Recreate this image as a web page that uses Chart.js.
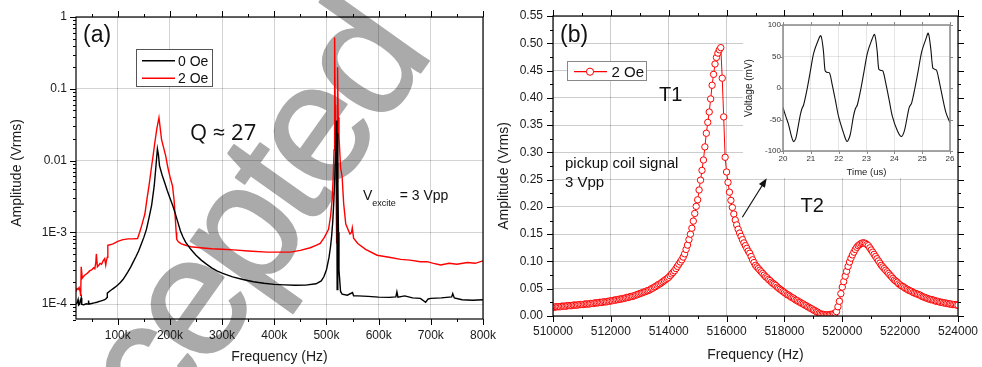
<!DOCTYPE html>
<html>
<head>
<meta charset="utf-8">
<script src="https://cdn.jsdelivr.net/npm/chart.js@4.4.1/dist/chart.umd.min.js"></script>
<style>
  body { margin: 0; background: #fff; width: 982px; height: 367px; overflow: hidden; position: relative; }
  canvas, svg { position: absolute; }
  #ca { left: 0; top: 0; }
  #cb { left: 490px; top: 0; }
  #ci { left: 743px; top: 17px; background: #fff; }
  #notes { left: 0; top: 0; pointer-events: none; font-family: "Liberation Sans", Arial, sans-serif; }
</style>
</head>
<body>
<canvas id="ca" width="500" height="367"></canvas>
<canvas id="cb" width="492" height="367"></canvas>
<canvas id="ci" width="214" height="161"></canvas>
<svg id="notes" width="982" height="367">
  <!-- panel (a) -->
  <text x="16" y="173" transform="rotate(-90 16 173)" text-anchor="middle" dominant-baseline="central" font-size="14" fill="#1a1a1a">Amplitude (Vrms)</text>
  <text x="83" y="42" font-size="23" fill="#111">(a)</text>
  <rect x="136.5" y="49.5" width="76" height="37" fill="#fff" stroke="#555" stroke-width="1"/>
  <line x1="142" y1="60.7" x2="175" y2="60.7" stroke="#000" stroke-width="1.5"/>
  <line x1="142" y1="78.3" x2="175" y2="78.3" stroke="#ff0000" stroke-width="1.5"/>
  <text x="178" y="66" font-size="14" fill="#111">0 Oe</text>
  <text x="178" y="83.3" font-size="14" fill="#111">2 Oe</text>
  <text x="190" y="140" font-size="22" font-family="Open Sans" fill="#111">Q ≈ 27</text>
  <text x="363" y="200" font-size="14" fill="#111">V<tspan font-size="9" dy="5.5">excite</tspan><tspan dy="-5.5"> = 3 Vpp</tspan></text>
  <!-- panel (b) -->
  <text x="503" y="176" transform="rotate(-90 503 176)" text-anchor="middle" dominant-baseline="central" font-size="14" fill="#1a1a1a">Amplitude (Vrms)</text>
  <text x="560" y="42" font-size="23" fill="#111">(b)</text>
  <rect x="567.5" y="61.5" width="79" height="19" fill="#fff" stroke="#888" stroke-width="1"/>
  <line x1="574" y1="71.7" x2="607" y2="71.7" stroke="#ff0000" stroke-width="1.2"/>
  <circle cx="590" cy="71.7" r="3.6" fill="#fff" stroke="#ff0000" stroke-width="1"/>
  <text x="611.5" y="77.3" font-size="15" fill="#111">2 Oe</text>
  <text x="659" y="100.7" font-size="20" fill="#111">T1</text>
  <text x="800.5" y="212.3" font-size="20" fill="#111">T2</text>
  <text x="565" y="167.7" font-size="15" fill="#111">pickup coil signal</text>
  <text x="565" y="186.5" font-size="15" fill="#111">3 Vpp</text>
  <line x1="742.3" y1="217.3" x2="762.5" y2="185" stroke="#111" stroke-width="1.2"/>
  <polygon points="766.7,178.3 764.9,187.8 758.9,184.0" fill="#111"/>
</svg>
<script>
Chart.defaults.font.family = '"Liberation Sans", Arial, sans-serif';
Chart.defaults.color = '#1a1a1a';

// ---- panel (a): spectrum, log amplitude, frequency in kHz ----
const freq0 = [
  20, 22, 24, 25, 27, 30, 31, 35, 40, 43,
  44, 45, 50, 55, 60, 65, 70, 75, 78, 79.5,
  80, 85, 90, 95, 100, 105, 110, 115, 120, 125,
  130, 135, 140, 145, 150, 155, 160, 165, 170, 173,
  176, 178, 180, 185, 190, 195, 200, 205, 210, 215,
  220, 225, 230, 240, 250, 260, 270, 280, 290, 300,
  320, 340, 360, 380, 400, 420, 440, 460, 480, 490,
  495, 500, 505, 508, 510, 512, 514, 516, 517.5, 519,
  520, 520.5, 521.5, 522, 523, 524, 527, 530, 540, 550,
  552, 560, 580, 600, 620, 633, 635, 637, 650, 665,
  680, 690, 695, 700, 720, 740, 742, 745, 760, 780,
  800
];
const amp0 = [
  1.0e-4, 1.04e-4, 1.16e-4, 0.97e-4, 1.0e-4, 1.22e-4, 0.99e-4, 0.98e-4, 1.01e-4, 1.0e-4,
  1.12e-4, 1.0e-4, 1.02e-4, 1.04e-4, 1.06e-4, 1.09e-4, 1.12e-4, 1.15e-4, 1.2e-4, 1.24e-4,
  1.42e-4, 1.52e-4, 1.62e-4, 1.72e-4, 1.85e-4, 2.0e-4, 2.2e-4, 2.5e-4, 2.85e-4, 3.3e-4,
  3.9e-4, 4.6e-4, 5.5e-4, 6.8e-4, 8.5e-4, 1.1e-3, 1.6e-3, 2.4e-3, 4.5e-3, 8e-3,
  1.45e-2, 1.2e-2, 8.5e-3, 6.3e-3, 4.9e-3, 3.8e-3, 3.0e-3, 2.4e-3, 1.85e-3, 1.4e-3,
  1.05e-3, 8.6e-4, 7.3e-4, 5.8e-4, 4.8e-4, 4.1e-4, 3.6e-4, 3.2e-4, 2.9e-4, 2.7e-4,
  2.4e-4, 2.2e-4, 2.05e-4, 1.95e-4, 1.88e-4, 1.85e-4, 1.83e-4, 1.84e-4, 1.92e-4, 2.1e-4,
  2.4e-4, 3.0e-4, 4.5e-4, 6.5e-4, 9e-4, 1.4e-3, 2.6e-3, 6e-3, 1.4e-2, 3.6e-2,
  2.5e-3, 1.6e-4, 2.4e-2, 6e-3, 1e-3, 3e-4, 1.5e-4, 1.38e-4, 1.33e-4, 1.45e-4,
  1.3e-4, 1.3e-4, 1.28e-4, 1.25e-4, 1.24e-4, 1.26e-4, 1.48e-4, 1.25e-4, 1.3e-4, 1.22e-4,
  1.2e-4, 1.06e-4, 1.18e-4, 1.2e-4, 1.22e-4, 1.26e-4, 1.4e-4, 1.22e-4, 1.15e-4, 1.13e-4,
  1.15e-4
];
const freq2 = [
  20, 22, 24, 26, 28, 29, 30, 32, 36, 39,
  42, 46, 50, 54, 56, 58, 59, 61, 64, 66,
  69, 72, 75, 77, 78, 80, 81, 85, 91, 100,
  110, 120, 129, 138, 142, 146, 149, 152, 156, 160,
  165, 168, 171, 175, 179, 181, 184, 188, 192, 196,
  200, 205, 208, 210, 212, 213, 216, 222, 230, 240,
  258, 280, 300, 322, 350, 386, 410, 431, 450, 469,
  480, 488, 496, 504, 508, 511, 513, 514.5, 515.3, 516,
  516.7, 517.5, 518.5, 519.5, 520.5, 521.3, 522.5, 524, 527, 530,
  533, 537, 545, 548, 549.5, 552, 560, 575, 597, 620,
  642, 660, 680, 693, 705, 719, 735, 750, 770, 785,
  800
];
const amp2 = [
  1.5e-4, 1.65e-4, 1.6e-4, 1.7e-4, 1.5e-4, 1.3e-4, 3.3e-4, 2.3e-4, 2.5e-4, 2.6e-4,
  2.7e-4, 2.9e-4, 3.0e-4, 3.2e-4, 3.1e-4, 3.8e-4, 5.0e-4, 3.3e-4, 3.5e-4, 3.7e-4,
  3.6e-4, 4.0e-4, 4.3e-4, 3.5e-4, 3.9e-4, 4.5e-4, 6.6e-4, 6.7e-4, 6.9e-4, 7.5e-4,
  7.9e-4, 8.1e-4, 8.1e-4, 8.2e-4, 1.0e-3, 1.25e-3, 1.5e-3, 1.8e-3, 2.9e-3, 4.5e-3,
  8.4e-3, 1.2e-2, 1.77e-2, 2.8e-2, 3.95e-2, 3.0e-2, 1.95e-2, 1.5e-2, 1.15e-2, 8e-3,
  6e-3, 4.4e-3, 2.8e-3, 1.7e-3, 1.0e-3, 8.0e-4, 7.4e-4, 6.9e-4, 6.6e-4, 6.3e-4,
  6.1e-4, 5.9e-4, 5.8e-4, 5.7e-4, 5.5e-4, 5.3e-4, 5.3e-4, 5.3e-4, 5.6e-4, 6.1e-4,
  6.6e-4, 7.0e-4, 8.5e-4, 1.1e-3, 1.7e-3, 2.9e-3, 6e-3, 1.4e-2, 1.2e-1, 5.2e-1,
  6e-2, 1.5e-2, 4e-3, 7e-4, 5e-3, 2.0e-1, 4e-2, 2.2e-2, 8e-3, 6e-3,
  2.5e-3, 1.3e-3, 9.5e-4, 1.0e-3, 1.15e-3, 8.3e-4, 7.0e-4, 5.8e-4, 4.8e-4, 4.5e-4,
  4.2e-4, 4.1e-4, 3.9e-4, 3.9e-4, 3.7e-4, 3.5e-4, 3.7e-4, 3.6e-4, 3.8e-4, 3.7e-4,
  4.0e-4
];
const ticksA = [100, 200, 300, 400, 500, 600, 700, 800];
const minorA = [50, 150, 250, 350, 450, 550, 650, 750];
const decadesA = [1e-4, 1e-3, 1e-2, 1e-1, 1];
const decadeLabels = ['1E-4', '1E-3', '0.01', '0.1', '1'];
const minorLogA = [6e-5, 7e-5, 8e-5, 9e-5,
  2e-4, 3e-4, 4e-4, 5e-4, 6e-4, 7e-4, 8e-4, 9e-4,
  2e-3, 3e-3, 4e-3, 5e-3, 6e-3, 7e-3, 8e-3, 9e-3,
  0.02, 0.03, 0.04, 0.05, 0.06, 0.07, 0.08, 0.09,
  0.2, 0.3, 0.4, 0.5, 0.6, 0.7, 0.8, 0.9];

// ---- panel (b): resonance sweep, 50 Hz steps from 510000 Hz ----
const startB = 510000, stepB = 50;
const ampB = [
  0.016, 0.016, 0.017, 0.017, 0.017, 0.017, 0.018, 0.018, 0.018, 0.018,
  0.019, 0.019, 0.019, 0.019, 0.020, 0.020, 0.020, 0.020, 0.021, 0.021,
  0.021, 0.021, 0.022, 0.022, 0.022, 0.022, 0.023, 0.023, 0.023, 0.024,
  0.024, 0.024, 0.025, 0.025, 0.025, 0.026, 0.026, 0.026, 0.027, 0.027,
  0.028, 0.028, 0.029, 0.029, 0.030, 0.030, 0.031, 0.031, 0.032, 0.032,
  0.033, 0.034, 0.034, 0.035, 0.036, 0.036, 0.037, 0.038, 0.039, 0.040,
  0.041, 0.042, 0.043, 0.044, 0.045, 0.046, 0.047, 0.048, 0.050, 0.051,
  0.053, 0.054, 0.056, 0.058, 0.059, 0.061, 0.063, 0.065, 0.067, 0.069,
  0.071, 0.074, 0.077, 0.080, 0.083, 0.087, 0.091, 0.095, 0.099, 0.103,
  0.108, 0.114, 0.122, 0.130, 0.140, 0.150, 0.161, 0.174, 0.188, 0.201,
  0.213, 0.231, 0.249, 0.267, 0.286, 0.310, 0.335, 0.355, 0.374, 0.398,
  0.423, 0.443, 0.462, 0.474, 0.482, 0.488, 0.492, 0.436, 0.365, 0.291,
  0.264, 0.245, 0.227, 0.212, 0.199, 0.187, 0.176, 0.167, 0.159, 0.152,
  0.146, 0.140, 0.134, 0.129, 0.124, 0.119, 0.115, 0.109, 0.103, 0.098,
  0.093, 0.090, 0.087, 0.084, 0.081, 0.078, 0.075, 0.072, 0.070, 0.067,
  0.065, 0.062, 0.060, 0.058, 0.056, 0.053, 0.051, 0.049, 0.047, 0.045,
  0.043, 0.041, 0.039, 0.038, 0.036, 0.034, 0.033, 0.031, 0.029, 0.028,
  0.026, 0.025, 0.023, 0.022, 0.020, 0.019, 0.017, 0.016, 0.014, 0.013,
  0.011, 0.010, 0.008, 0.007, 0.005, 0.004, 0.003, 0.003, 0.002, 0.002,
  0.002, 0.002, 0.003, 0.003, 0.004, 0.005, 0.008, 0.017, 0.027, 0.041,
  0.053, 0.063, 0.073, 0.082, 0.091, 0.099, 0.106, 0.112, 0.117, 0.122,
  0.126, 0.129, 0.131, 0.133, 0.134, 0.134, 0.133, 0.131, 0.129, 0.125,
  0.121, 0.117, 0.113, 0.109, 0.105, 0.101, 0.097, 0.093, 0.090, 0.087,
  0.084, 0.081, 0.078, 0.075, 0.072, 0.069, 0.066, 0.064, 0.062, 0.059,
  0.057, 0.055, 0.054, 0.052, 0.050, 0.049, 0.047, 0.046, 0.045, 0.043,
  0.042, 0.041, 0.040, 0.039, 0.038, 0.036, 0.035, 0.034, 0.033, 0.032,
  0.031, 0.030, 0.030, 0.029, 0.028, 0.027, 0.027, 0.026, 0.025, 0.025,
  0.024, 0.024, 0.023, 0.023, 0.022, 0.022, 0.021, 0.021, 0.021, 0.020,
  0.020
];
const ticksBx = [510000, 512000, 514000, 516000, 518000, 520000, 522000, 524000];
const minorBx = [511000, 513000, 515000, 517000, 519000, 521000, 523000];
const ticksBy = [0, 0.05, 0.10, 0.15, 0.20, 0.25, 0.30, 0.35, 0.40, 0.45, 0.50, 0.55];
const minorBy = [0.025, 0.075, 0.125, 0.175, 0.225, 0.275, 0.325, 0.375, 0.425, 0.475, 0.525];

// ---- inset: pickup coil waveform ----
const timeI = [
  20.00, 20.10, 20.20, 20.30, 20.38, 20.46, 20.54, 20.62, 20.68, 20.74,
  20.86, 20.98, 21.10, 21.24, 21.36, 21.45, 21.51, 21.57, 21.67, 21.76,
  21.88, 22.00, 22.18, 22.30, 22.41, 22.53, 22.60, 22.67, 22.79, 22.91,
  23.03, 23.17, 23.29, 23.38, 23.44, 23.50, 23.59, 23.69, 23.81, 23.93,
  24.11, 24.25, 24.36, 24.48, 24.54, 24.62, 24.74, 24.86, 24.98, 25.12,
  25.22, 25.31, 25.38, 25.44, 25.52, 25.62, 25.74, 25.86, 26.00
];
const voltI = [
  -31, -45, -58, -76, -85, -80, -62, -43, -33, -27,
  -3, 26, 55, 73, 83, 60, 28, 25, 24, 7,
  -19, -46, -72, -85, -75, -45, -33, -27, -3, 26,
  55, 74, 85, 60, 30, 28, 27, 8, -18, -45,
  -68, -77, -68, -42, -30, -24, 0, 28, 57, 76,
  87, 62, 32, 30, 28, 9, -17, -40, -55
];
const ticksIx = [20, 21, 22, 23, 24, 25, 26];
const ticksIy = [-100, -50, 0, 50, 100];

const pairs = (xs, ys) => xs.map((x, i) => ({ x: x, y: ys[i] }));

// box round the plot area plus tick marks on chosen sides
const axisFrame = {
  id: 'axisFrame',
  afterDatasetsDraw(chart, args, o) {
    const { ctx, chartArea: a } = chart;
    const sx = chart.scales.x, sy = chart.scales.y;
    ctx.save();
    ctx.strokeStyle = o.color;
    ctx.lineWidth = o.width;
    ctx.strokeRect(a.left, a.top, a.right - a.left, a.bottom - a.top);
    ctx.lineWidth = 1;
    const mark = (side, vals, len) => {
      vals.forEach(v => {
        ctx.beginPath();
        if (side === 'bottom' || side === 'top') {
          const p = Math.round(sx.getPixelForValue(v)) + 0.5;
          const y0 = side === 'bottom' ? a.bottom : a.top;
          ctx.moveTo(p, y0);
          ctx.lineTo(p, side === 'bottom' ? y0 + len : y0 - len);
        } else {
          const p = Math.round(sy.getPixelForValue(v)) + 0.5;
          const x0 = side === 'left' ? a.left : a.right;
          ctx.moveTo(x0, p);
          ctx.lineTo(side === 'left' ? x0 - len : x0 + len, p);
        }
        ctx.stroke();
      });
    };
    o.sides.forEach(s => {
      const horiz = s === 'bottom' || s === 'top';
      mark(s, horiz ? o.xMajor : o.yMajor, o.major);
      mark(s, horiz ? o.xMinor : o.yMinor, o.minor);
    });
    ctx.restore();
  }
};

// grey "Accepted" stamp behind the spectrum
const stamp = {
  id: 'stamp',
  beforeDraw(chart, args, o) {
    const ctx = chart.ctx;
    ctx.save();
    ctx.translate(o.x, o.y);
    ctx.rotate(o.angle * Math.PI / 180);
    ctx.font = o.font;
    ctx.letterSpacing = o.spacing;
    ctx.fillStyle = o.color;
    ctx.strokeStyle = o.color;
    ctx.lineWidth = o.thicken;
    ctx.lineJoin = 'round';
    ctx.fillText(o.text, 0, 0);
    ctx.strokeText(o.text, 0, 0);
    ctx.restore();
  }
};

// let edge tick labels hang past the plot box instead of shrinking it
const noEdgePad = s => { s.paddingLeft = 0; s.paddingRight = 0; };

new Chart(document.getElementById('ca'), {
  type: 'line',
  data: {
    datasets: [
      { label: '0 Oe', data: pairs(freq0, amp0), borderColor: '#000000', borderWidth: 1.4 },
      { label: '2 Oe', data: pairs(freq2, amp2), borderColor: '#ff0000', borderWidth: 1.4 }
    ]
  },
  options: {
    responsive: false,
    animation: false,
    layout: { padding: { top: 17, right: 17, left: 0, bottom: 0 } },
    elements: { point: { radius: 0 }, line: { tension: 0 } },
    plugins: {
      legend: { display: false },
      tooltip: { enabled: false },
      stamp: {
        text: 'Accepted', x: 57, y: 584, angle: -54.6,
        font: '170px "Liberation Sans"', spacing: '-8px', thicken: 2, color: '#aaaaaa'
      },
      axisFrame: {
        color: '#000', width: 1.2, major: 6, minor: 3, sides: ['bottom', 'top', 'left'],
        xMajor: ticksA, xMinor: minorA, yMajor: decadesA, yMinor: minorLogA
      }
    },
    scales: {
      x: {
        type: 'linear', min: 20, max: 800,
        afterBuildTicks: s => { s.ticks = ticksA.map(v => ({ value: v })); },
        afterFit: s => { s.height = 48; noEdgePad(s); },
        grid: { color: 'rgba(0,0,0,0.17)', drawTicks: false },
        border: { display: false },
        ticks: { padding: 9, font: { size: 12 }, callback: v => v + 'k' },
        title: { display: true, text: 'Frequency (Hz)', font: { size: 14 }, padding: { top: 0, bottom: 1 } }
      },
      y: {
        type: 'logarithmic', min: 6.2e-5, max: 1,
        afterBuildTicks: s => { s.ticks = decadesA.map(v => ({ value: v })); },
        afterFit: s => { s.width = 76; s.paddingTop = 0; s.paddingBottom = 0; },
        grid: { color: 'rgba(0,0,0,0.17)', drawTicks: false },
        border: { display: false },
        ticks: { padding: 9, font: { size: 12 }, callback: v => decadeLabels[decadesA.indexOf(v)] }
      }
    }
  },
  plugins: [stamp, axisFrame]
});

new Chart(document.getElementById('cb'), {
  type: 'line',
  data: {
    datasets: [{
      label: '2 Oe',
      data: pairs(ampB.map((_, i) => startB + stepB * i), ampB),
      borderColor: '#ff0000', borderWidth: 1,
      pointRadius: 3.2, pointBorderWidth: 1,
      pointBorderColor: '#ff0000', pointBackgroundColor: '#ffffff'
    }]
  },
  options: {
    responsive: false,
    animation: false,
    layout: { padding: { top: 16, right: 24, left: 0, bottom: 0 } },
    elements: { line: { tension: 0 } },
    plugins: {
      legend: { display: false },
      tooltip: { enabled: false },
      axisFrame: {
        color: '#000', width: 1.2, major: 6, minor: 3, sides: ['bottom', 'top', 'left', 'right'],
        xMajor: ticksBx, xMinor: minorBx, yMajor: ticksBy, yMinor: minorBy
      }
    },
    scales: {
      x: {
        type: 'linear', min: 510000, max: 524000,
        afterBuildTicks: s => { s.ticks = ticksBx.map(v => ({ value: v })); },
        afterFit: s => { s.height = 51; noEdgePad(s); },
        grid: { color: 'rgba(0,0,0,0.2)', drawTicks: false },
        border: { display: false },
        ticks: { padding: 8.5, font: { size: 12 }, callback: v => String(v) },
        title: { display: true, text: 'Frequency (Hz)', font: { size: 14 }, padding: { top: 0, bottom: 3 } }
      },
      y: {
        min: 0, max: 0.55,
        afterBuildTicks: s => { s.ticks = ticksBy.map(v => ({ value: v })); },
        afterFit: s => { s.width = 63; s.paddingTop = 0; s.paddingBottom = 0; },
        grid: { color: 'rgba(0,0,0,0.2)', drawTicks: false },
        border: { display: false },
        ticks: { padding: 10, font: { size: 12 }, callback: v => v.toFixed(2) }
      }
    }
  },
  plugins: [axisFrame]
});

new Chart(document.getElementById('ci'), {
  type: 'line',
  data: {
    datasets: [{ data: pairs(timeI, voltI), borderColor: '#111', borderWidth: 1.1, pointRadius: 0, tension: 0.3 }]
  },
  options: {
    responsive: false,
    animation: false,
    layout: { padding: { top: 8, right: 7, left: 0, bottom: 0 } },
    plugins: {
      legend: { display: false },
      tooltip: { enabled: false },
      axisFrame: {
        color: '#888', width: 1.5, major: 3, minor: 0, sides: ['bottom', 'top', 'left', 'right'],
        xMajor: ticksIx, xMinor: [], yMajor: ticksIy, yMinor: []
      }
    },
    scales: {
      x: {
        type: 'linear', min: 20, max: 26,
        afterBuildTicks: s => { s.ticks = ticksIx.map(v => ({ value: v })); },
        afterFit: s => { s.height = 27; noEdgePad(s); },
        grid: { color: 'rgba(0,0,0,0.1)', drawTicks: false },
        border: { display: false },
        ticks: { padding: 3, font: { size: 8 }, color: '#333' },
        title: { display: true, text: 'Time (us)', font: { size: 9.5 }, color: '#222', padding: { top: 0, bottom: 0 } }
      },
      y: {
        min: -100, max: 100,
        afterBuildTicks: s => { s.ticks = ticksIy.map(v => ({ value: v })); },
        afterFit: s => { s.width = 40; s.paddingTop = 0; s.paddingBottom = 0; },
        grid: { color: 'rgba(0,0,0,0.1)', drawTicks: false },
        border: { display: false },
        ticks: { padding: 2, font: { size: 8 }, color: '#333' },
        title: { display: true, text: 'Voltage (mV)', font: { size: 10 }, color: '#222', padding: { top: 0, bottom: 0 } }
      }
    }
  },
  plugins: [axisFrame]
});
</script>
</body>
</html>
